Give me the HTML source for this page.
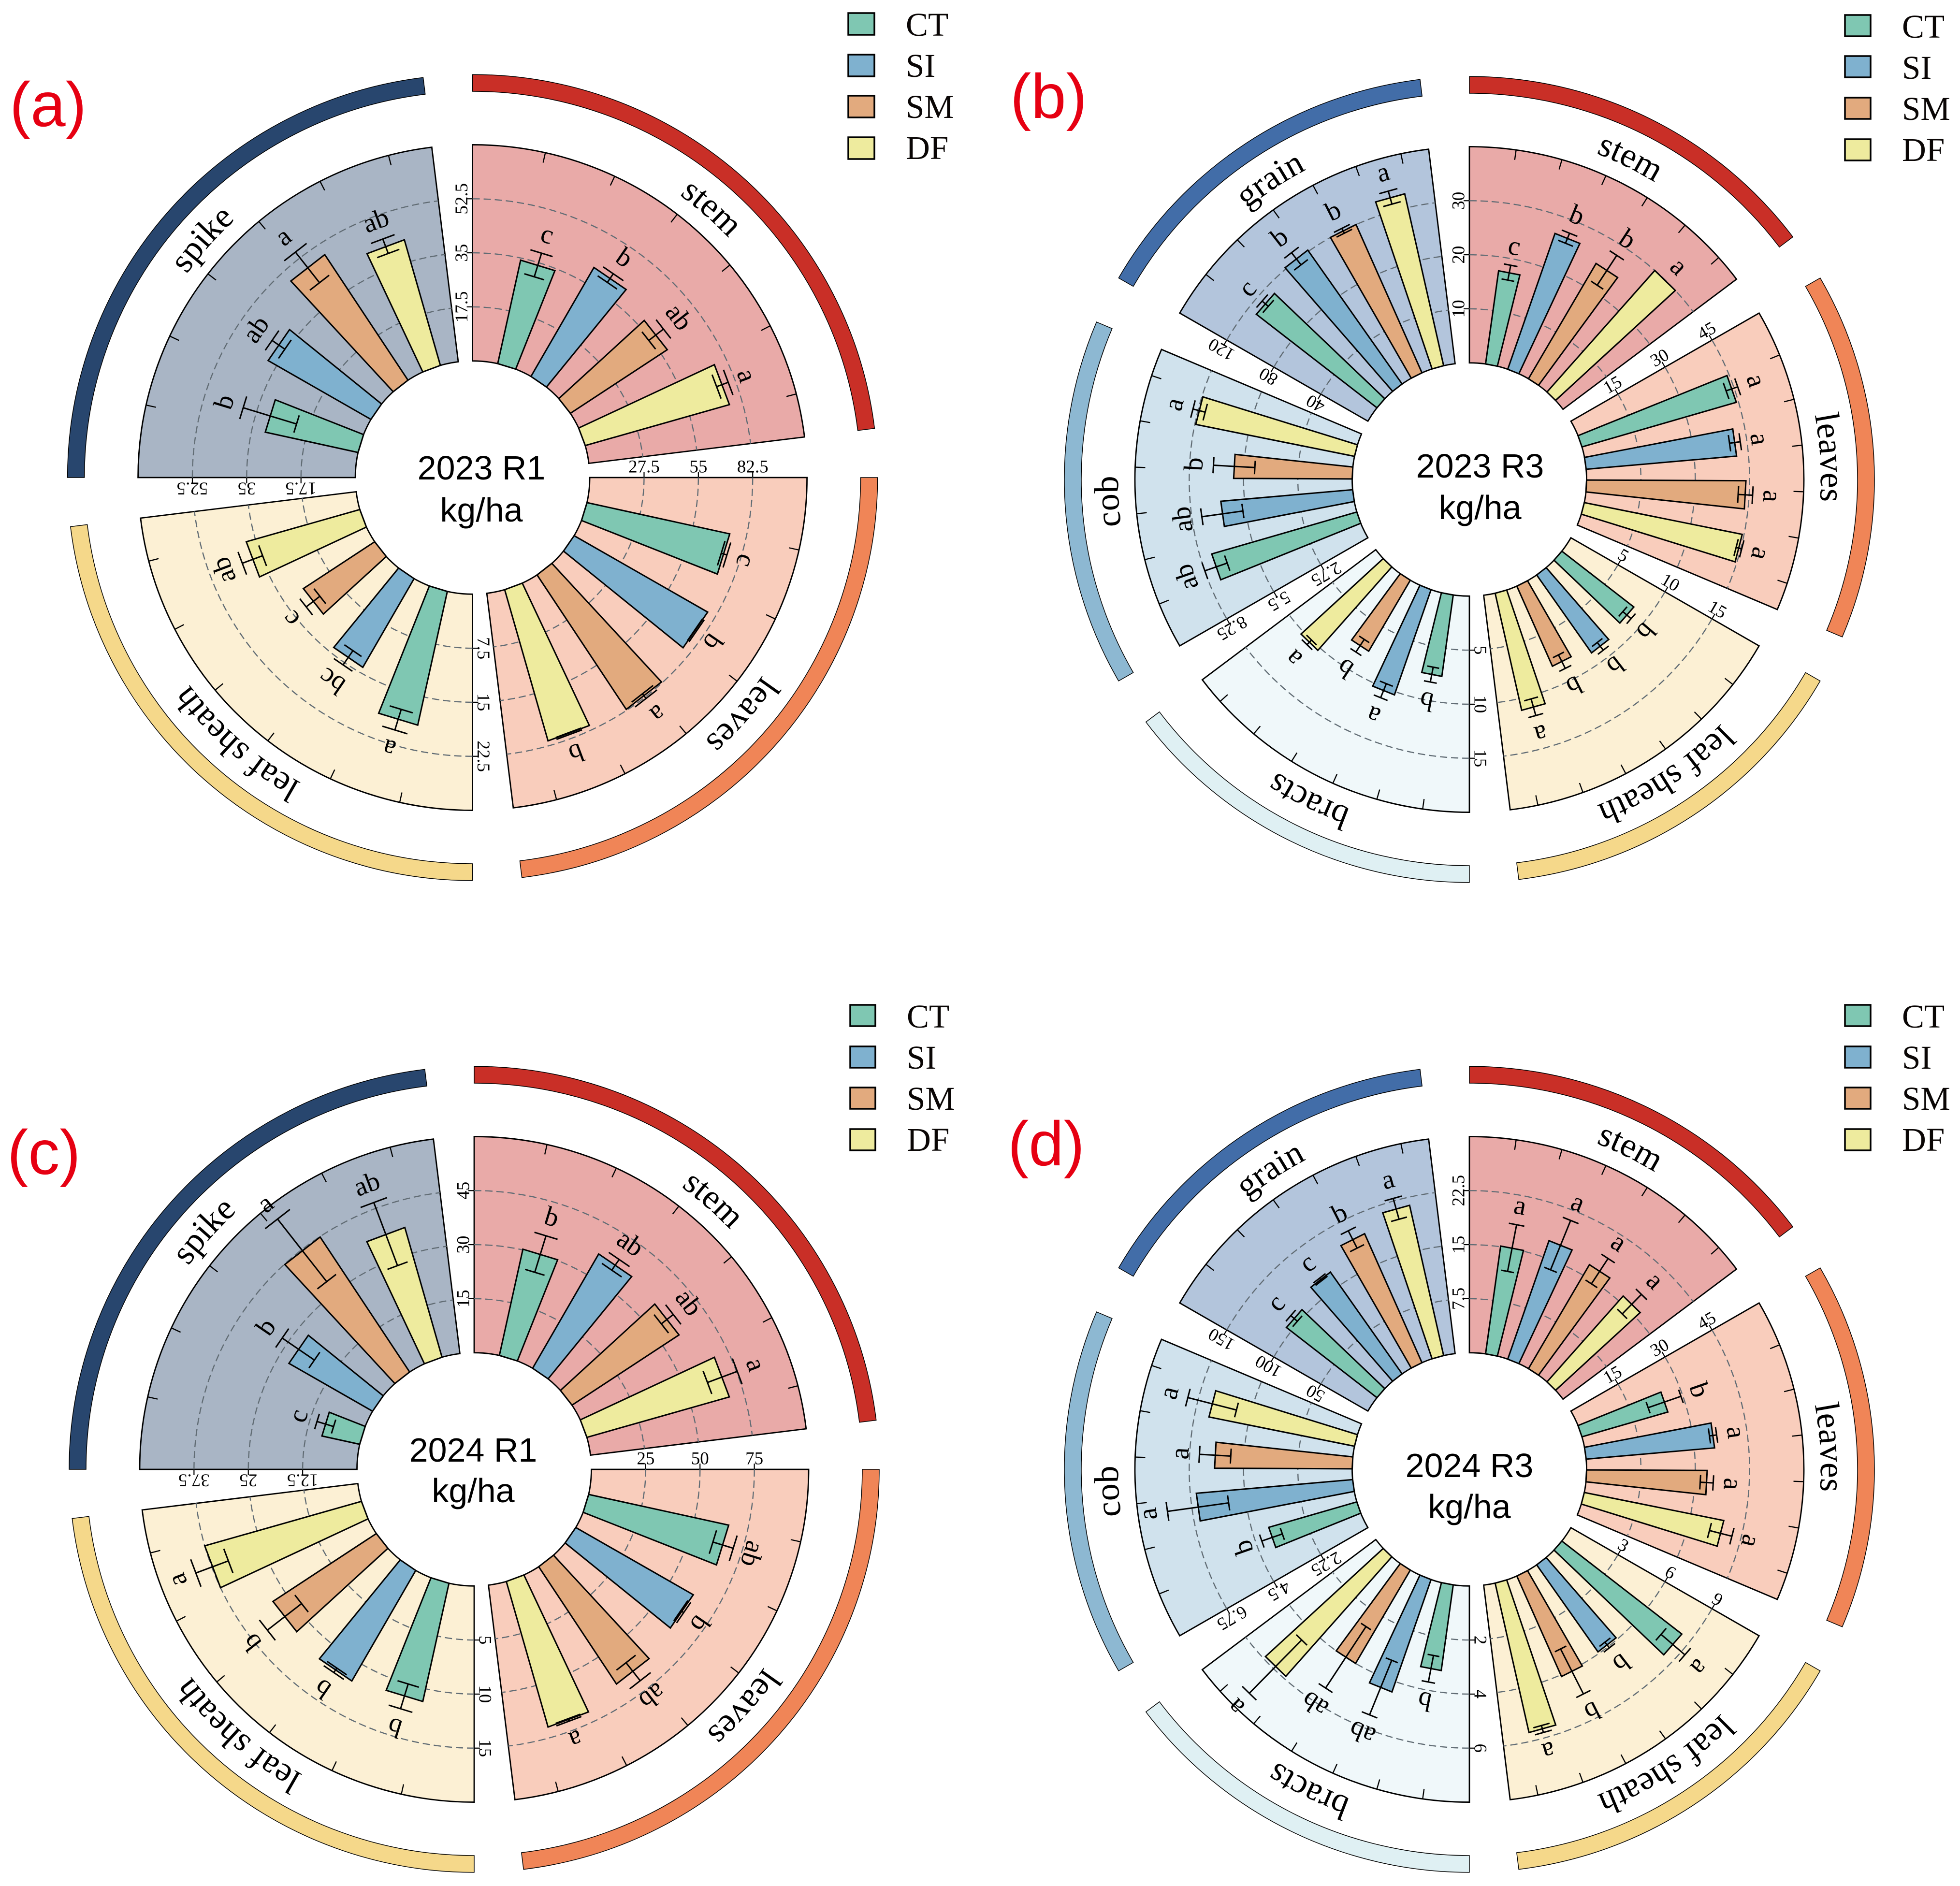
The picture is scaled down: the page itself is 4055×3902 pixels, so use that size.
<!DOCTYPE html>
<html lang="en">
<head>
<meta charset="utf-8">
<title>Polar bar charts of dry matter by organ</title>
<style>
html,body{margin:0;padding:0;background:#fff;}
svg{display:block;}
.serif{font-family:"Liberation Serif",serif;fill:#000;}
.sans{font-family:"Liberation Sans",sans-serif;fill:#000;}
.tag{font-family:"Liberation Sans",sans-serif;fill:#E60012;font-size:130px;}
.lg{font-family:"Liberation Serif",serif;font-size:69px;fill:#0a0605;}
.sw{stroke:#000;stroke-width:3.5;}
.ct{fill:#7FC7B2;}.si{fill:#7FB1CF;}.sm{fill:#E2AA7E;}.df{fill:#EEEB9E;}
.ttl{font-family:"Liberation Sans",sans-serif;font-size:70px;fill:#000;text-anchor:middle;}
</style>
</head>
<body>
<svg id="chart" xmlns="http://www.w3.org/2000/svg" width="4055" height="3902" viewBox="0 0 4055 3902">
  <rect x="0" y="0" width="4055" height="3902" fill="#ffffff"/>
  <g id="panels"></g>

  <text class="tag" x="20" y="261">(a)</text>
  <text class="tag" x="2090" y="244">(b)</text>
  <text class="tag" x="15" y="2429">(c)</text>
  <text class="tag" x="2085" y="2411">(d)</text>

  <text class="ttl" x="996" y="992">2023 R1</text>
  <text class="ttl" x="996" y="1079">kg/ha</text>
  <text class="ttl" x="3062" y="988">2023 R3</text>
  <text class="ttl" x="3062" y="1074">kg/ha</text>
  <text class="ttl" x="979" y="3024">2024 R1</text>
  <text class="ttl" x="979" y="3108">kg/ha</text>
  <text class="ttl" x="3040" y="3056">2024 R3</text>
  <text class="ttl" x="3040" y="3141">kg/ha</text>

  <g>
    <rect class="sw ct" x="1755" y="27" width="54" height="45"/>
    <rect class="sw si" x="1755" y="113" width="54" height="45"/>
    <rect class="sw sm" x="1755" y="198" width="54" height="45"/>
    <rect class="sw df" x="1755" y="284" width="54" height="45"/>
    <text class="lg" x="1874" y="74">CT</text>
    <text class="lg" x="1874" y="159">SI</text>
    <text class="lg" x="1874" y="244">SM</text>
    <text class="lg" x="1874" y="329">DF</text>
  </g>
  <g>
    <rect class="sw ct" x="3817" y="31" width="53" height="44"/>
    <rect class="sw si" x="3817" y="116" width="53" height="44"/>
    <rect class="sw sm" x="3817" y="202" width="53" height="44"/>
    <rect class="sw df" x="3817" y="288" width="53" height="44"/>
    <text class="lg" x="3935" y="78">CT</text>
    <text class="lg" x="3935" y="163">SI</text>
    <text class="lg" x="3935" y="248">SM</text>
    <text class="lg" x="3935" y="333">DF</text>
  </g>
  <g>
    <rect class="sw ct" x="1759" y="2079" width="52" height="44"/>
    <rect class="sw si" x="1759" y="2165" width="52" height="44"/>
    <rect class="sw sm" x="1759" y="2250" width="52" height="44"/>
    <rect class="sw df" x="1759" y="2336" width="52" height="44"/>
    <text class="lg" x="1876" y="2126">CT</text>
    <text class="lg" x="1876" y="2211">SI</text>
    <text class="lg" x="1876" y="2296">SM</text>
    <text class="lg" x="1876" y="2381">DF</text>
  </g>
  <g>
    <rect class="sw ct" x="3817" y="2079" width="53" height="44"/>
    <rect class="sw si" x="3817" y="2165" width="53" height="44"/>
    <rect class="sw sm" x="3817" y="2250" width="53" height="44"/>
    <rect class="sw df" x="3817" y="2336" width="53" height="44"/>
    <text class="lg" x="3935" y="2126">CT</text>
    <text class="lg" x="3935" y="2211">SI</text>
    <text class="lg" x="3935" y="2296">SM</text>
    <text class="lg" x="3935" y="2381">DF</text>
  </g>
</svg>
<script>
const treatments = ['CT', 'SI', 'SM', 'DF'];

// Panel (a) 2023 R1
const panelASectors = ['stem', 'leaves', 'leaf sheath', 'spike'];
const panelATickSteps = [17.5, 27.5, 7.5, 17.5];
const panelAValues = [[34.3, 40.7, 37.4, 48.3], [74, 78, 82, 80], [19, 14.2, 11.8, 16.3], [30.6, 38.2, 48.7, 42.3]];
const panelAErrors = [[4, 1.7, 3, 2], [1.5, 0.5, 1.5, 0.5], [1.5, 1.2, 1.2, 1.5], [9, 2.5, 6.3, 2.5]];
const panelALetters = [['c', 'b', 'ab', 'a'], ['c', 'b', 'a', 'b'], ['a', 'bc', 'c', 'ab'], ['b', 'ab', 'a', 'ab']];

// Panel (b) 2023 R3
const panelBSectors = ['stem', 'leaves', 'leaf sheath', 'bracts', 'cob', 'grain'];
const panelBTickSteps = [10, 15, 5, 5, 2.75, 40];
const panelBValues = [[17.4, 26.6, 24.7, 30], [44.4, 41.7, 44, 44.5], [8.4, 8.8, 8.1, 11.1], [7.6, 10.3, 7.6, 10.3], [7.65, 6.7, 6, 8.2], [112.6, 121, 120, 130.4]];
const panelBErrors = [[1.4, 1, 3.3, 0], [1.7, 1.5, 2, 0.8], [0.5, 0.45, 0.7, 0.8], [0.7, 0.7, 0.7, 0.3], [0.6, 1.05, 1.05, 0.32], [3, 5.7, 2, 5]];
const panelBLetters = [['c', 'b', 'b', 'a'], ['a', 'a', 'a', 'a'], ['b', 'b', 'b', 'a'], ['b', 'a', 'b', 'a'], ['ab', 'ab', 'b', 'a'], ['c', 'b', 'b', 'a']];

// Panel (c) 2024 R1
const panelCSectors = ['stem', 'leaves', 'leaf sheath', 'spike'];
const panelCTickSteps = [15, 25, 5, 12.5];
const panelCValues = [[30.2, 36.6, 35.4, 40.9], [66, 62.4, 65, 70], [11.2, 11.8, 11.4, 15], [8.9, 22.2, 37.4, 31.2]];
const panelCErrors = [[5.3, 1.8, 2.1, 4.4], [4.9, 0.8, 5.3, 0.6], [1.2, 0.25, 2, 1.6], [2, 4.5, 9.2, 7.8]];
const panelCLetters = [['b', 'ab', 'ab', 'a'], ['ab', 'b', 'ab', 'a'], ['b', 'b', 'b', 'a'], ['c', 'b', 'a', 'ab']];

// Panel (d) 2024 R3
const panelDSectors = ['stem', 'leaves', 'leaf sheath', 'bracts', 'cob', 'grain'];
const panelDTickSteps = [7.5, 15, 3, 2, 2.25, 50];
const panelDValues = [[15.1, 17.4, 16.7, 15.9], [24.7, 35.6, 33.3, 39.3], [8.4, 5.9, 6.1, 8.5], [3.2, 4.4, 4, 5.9], [3.8, 6.5, 5.7, 6.15], [105.6, 115, 130.5, 142.5]];
const panelDErrors = [[3.3, 3.7, 2.1, 1.9], [4.8, 1, 1.8, 3.2], [0.87, 0.2, 1.4, 0.2], [0.5, 1.09, 1.36, 1.38], [0.45, 1.28, 0.65, 1.04], [4, 1.5, 9, 10]];
const panelDLetters = [['a', 'a', 'a', 'a'], ['b', 'a', 'a', 'a'], ['a', 'b', 'b', 'a'], ['b', 'ab', 'ab', 'a'], ['b', 'a', 'a', 'a'], ['c', 'c', 'b', 'a']];

const NS = 'http://www.w3.org/2000/svg';
const barFills = { CT: '#7FC7B2', SI: '#7FB1CF', SM: '#E2AA7E', DF: '#EEEB9E' };
const trackFills = { 'stem': '#C92F27', 'leaves': '#F08557', 'leaf sheath': '#F5D88A', 'spike': '#28466E', 'grain': '#426DA8', 'cob': '#8DB8D2', 'bracts': '#DFF0F3' };
const sectorFills = { 'stem': '#E9AAA8', 'leaves': '#F9CDBC', 'leaf sheath': '#FCF0D4', 'spike': '#A9B5C5', 'grain': '#B3C5DC', 'cob': '#D0E2ED', 'bracts': '#F0F8FA' };

const R_IN = 242.5, R_OUT = 692, TRACK_IN = 803, TRACK_OUT = 838, LABEL_R = 727, YS = 0.995, GAP = 7;

function make(parent, tag, attrs) {
  const n = document.createElementNS(NS, tag);
  for (const k in attrs) n.setAttribute(k, attrs[k]);
  parent.appendChild(n);
  return n;
}

function renderPanel(p) {
  const root = document.getElementById('panels');
  const panel = make(root, 'g', {});
  
  
  const n = p.sectors.length;
  const step = 360 / n;
  const span = step - GAP;

  const pt = (r, deg) => {
    const a = deg * Math.PI / 180;
    return [p.cx + r * Math.sin(a), p.cy - r * YS * Math.cos(a)];
  };
  const f = v => v.toFixed(2);
  const P = (r, deg) => { const q = pt(r, deg); return f(q[0]) + ' ' + f(q[1]); };
  const arcTo = (r, deg, sweep) => 'A' + f(r) + ' ' + f(r * YS) + ' 0 0 ' + sweep + ' ' + P(r, deg);
  const ring = (r0, r1, a0, a1) => 'M' + P(r1, a0) + arcTo(r1, a1, 1) + 'L' + P(r0, a1) + arcTo(r0, a0, 0) + 'Z';

  p.sectors.forEach((name, s) => {
    const start = s * step;
    const end = start + span;
    const yMax = p.tickSteps[s] * 4;
    const rScale = v => R_IN + (v / yMax) * (R_OUT - R_IN);
    const angle = frac => start + frac * span;

    const g = make(panel, 'g', {});
    
    

    const track = make(g, 'path', { d: ring(TRACK_IN, TRACK_OUT, start, end), fill: trackFills[name], stroke: '#000', 'stroke-width': 1.5 });
    
    

    const bg = make(g, 'path', { d: ring(R_IN, R_OUT, start, end), fill: sectorFills[name], stroke: '#000', 'stroke-width': 2.8 });
    
    

    for (let k = 1; k <= 6; k++) {
      const a = start + k * span / 6.6;
      const q0 = pt(R_OUT, a), q1 = pt(R_OUT - 21, a);
      const tick = make(g, 'line', { x1: q0[0], y1: q0[1], x2: q1[0], y2: q1[1], stroke: '#000', 'stroke-width': 2.4 });
      
      
    }

    for (let k = 1; k <= 3; k++) {
      const tv = p.tickSteps[s] * k;
      const r = rScale(tv);
      const grid = make(g, 'path', { d: 'M' + P(r, start) + arcTo(r, end, 1), fill: 'none', stroke: '#616C74', 'stroke-width': 2.4, 'stroke-dasharray': '15 8' });
      
      

      const rad = start * Math.PI / 180;
      const q = pt(r, start);
      const ox = -Math.cos(rad), oy = -Math.sin(rad);
      const tk = make(g, 'line', { x1: q[0], y1: q[1], x2: q[0] + ox * 12, y2: q[1] + oy * 12, stroke: '#000', 'stroke-width': 2.2 });
      
      

      const lx = q[0] + ox * 23, ly = q[1] + oy * 23;
      const lab = make(g, 'text', { x: 0, y: 0, dy: '0.34em', transform: 'translate(' + f(lx) + ' ' + f(ly) + ') rotate(' + (start - 90) + ')', 'text-anchor': 'middle', 'font-size': 37, class: 'serif' });
      
      
      lab.textContent = String(tv);
    }

    treatments.forEach((t, i) => {
      const value = p.values[s][i];
      const err = p.errors[s][i];
      const mid = angle(0.205 + 0.2107 * i);
      const hw = 0.0554 * span;
      const top = rScale(value);
      const pts = [pt(R_IN, mid - hw), pt(top, mid - hw), pt(top, mid + hw), pt(R_IN, mid + hw)].map(q => f(q[0]) + ',' + f(q[1])).join(' ');
      const bar = make(g, 'polygon', { points: pts, fill: barFills[t], stroke: '#000', 'stroke-width': 3, 'stroke-linejoin': 'miter' });
      
      

      const rHi = rScale(value + err), rLo = rScale(value - err);
      if (err > 0) {
        const capHalf = 0.034 * span;
        const e0 = pt(rLo, mid), e1 = pt(rHi, mid);
        const cA = pt(rHi, mid - capHalf), cB = pt(rHi, mid + capHalf);
        const dA = pt(rLo, mid - capHalf), dB = pt(rLo, mid + capHalf);
        const eb = make(g, 'path', {
          d: 'M' + f(e0[0]) + ' ' + f(e0[1]) + 'L' + f(e1[0]) + ' ' + f(e1[1]) +
             'M' + f(cA[0]) + ' ' + f(cA[1]) + 'L' + f(cB[0]) + ' ' + f(cB[1]) +
             'M' + f(dA[0]) + ' ' + f(dA[1]) + 'L' + f(dB[0]) + ' ' + f(dB[1]),
          fill: 'none', stroke: '#000', 'stroke-width': 3
        });
        
        
      }

      const lp = pt(rHi + 38, mid);
      const sig = make(g, 'text', { x: 0, y: 0, dy: '0.28em', transform: 'translate(' + f(lp[0]) + ' ' + f(lp[1]) + ') rotate(' + f(mid) + ')', 'text-anchor': 'middle', 'font-size': 56, class: 'serif' });
      
      
      sig.textContent = p.letters[s][i];
    });

    const pathId = 'label-arc-' + p.id + '-' + s;
    const guide = make(g, 'path', { id: pathId, d: 'M' + P(LABEL_R, start) + arcTo(LABEL_R, end, 1), fill: 'none', stroke: 'none' });
    
    
    const title = make(g, 'text', { 'font-size': 72, class: 'serif', 'text-anchor': 'middle' });
    
    
    const tp = make(title, 'textPath', { href: '#' + pathId, startOffset: '50%' });
    tp.textContent = name;
  });
}

renderPanel({ id: 'a', cx: 977.6, cy: 988, sectors: panelASectors, tickSteps: panelATickSteps, values: panelAValues, errors: panelAErrors, letters: panelALetters });
renderPanel({ id: 'b', cx: 3040, cy: 992, sectors: panelBSectors, tickSteps: panelBTickSteps, values: panelBValues, errors: panelBErrors, letters: panelBLetters });
renderPanel({ id: 'c', cx: 981, cy: 3040, sectors: panelCSectors, tickSteps: panelCTickSteps, values: panelCValues, errors: panelCErrors, letters: panelCLetters });
renderPanel({ id: 'd', cx: 3040, cy: 3040, sectors: panelDSectors, tickSteps: panelDTickSteps, values: panelDValues, errors: panelDErrors, letters: panelDLetters });
</script>
</body>
</html>
